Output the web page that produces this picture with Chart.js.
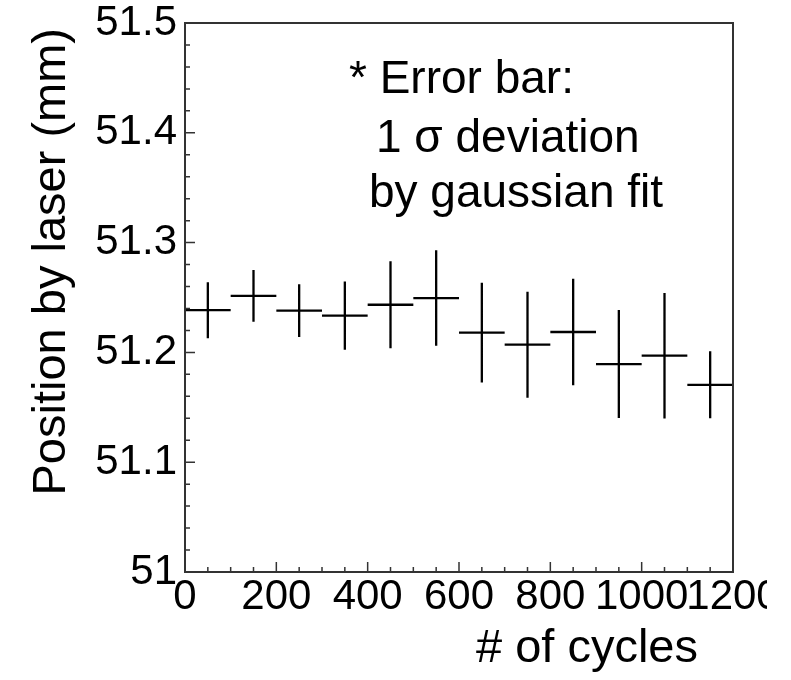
<!DOCTYPE html>
<html>
<head>
<meta charset="utf-8">
<title>Position by laser</title>
<script src="https://cdn.jsdelivr.net/npm/chart.js"></script>
<style>
  html, body { margin: 0; padding: 0; background: #fff; }
  #wrap { width: 767px; height: 680px; }
</style>
</head>
<body>
<div id="wrap"><canvas id="laser_chart" width="767" height="680"></canvas></div>
<script>
// bins of 100 cycles, value = mean position, error = 1 sigma of gaussian fit
const cycleBins = [50, 150, 250, 350, 450, 550, 650, 750, 850, 950, 1050, 1150];
const binHalfWidths = [50, 50, 50, 50, 50, 50, 50, 50, 50, 50, 50, 50];
const positions = [51.2385, 51.2515, 51.238, 51.2335, 51.2434, 51.2495, 51.218, 51.207, 51.2186, 51.1894, 51.197, 51.1705];
const sigmas = [0.0255, 0.0235, 0.024, 0.031, 0.0397, 0.0435, 0.0455, 0.0483, 0.0485, 0.0492, 0.0572, 0.0305];

const xTickLabels = ['0', '200', '400', '600', '800', '1000', '1200'];
const yTickLabels = ['51', '51.1', '51.2', '51.3', '51.4', '51.5'];
const noteLines = ['* Error bar:', '1 \u03c3 deviation', 'by gaussian fit'];

const FONT = '"Liberation Sans", Arial, Helvetica, sans-serif';

// ROOT style frame + inward ticks
const rootFrame = {
    id: 'rootFrame',
    afterDraw(chart) {
        const { ctx, chartArea: a, scales: { x, y } } = chart;
        ctx.save();
        ctx.strokeStyle = '#333';
        ctx.lineWidth = 1.5;
        ctx.beginPath();
        for (let v = 0; v <= 1200; v += 50) {
            const px = x.getPixelForValue(v);
            const len = v % 200 === 0 ? 10 : 5;
            ctx.moveTo(px, a.bottom);
            ctx.lineTo(px, a.bottom - len);
        }
        for (let i = 0; i <= 25; i++) {
            const py = y.getPixelForValue(51 + i * 0.02);
            const len = i % 5 === 0 ? 10 : 5;
            ctx.moveTo(a.left, py);
            ctx.lineTo(a.left + len, py);
        }
        ctx.stroke();
        ctx.lineWidth = 2;
        ctx.strokeRect(a.left, a.top, a.right - a.left, a.bottom - a.top);

        // titles and note
        ctx.fillStyle = '#000';
        ctx.font = '47px ' + FONT;
        ctx.textBaseline = 'alphabetic';
        ctx.textAlign = 'right';
        ctx.fillText('# of cycles', 698, 662);
        ctx.save();
        ctx.translate(65, 28);
        ctx.rotate(-Math.PI / 2);
        ctx.fillText('Position by laser (mm)', 0, 0);
        ctx.restore();

        ctx.textAlign = 'left';
        ctx.font = '46px ' + FONT;
        ctx.fillText(noteLines[0], 349, 93);
        ctx.fillText(noteLines[1], 376, 152);
        ctx.fillText(noteLines[2], 369, 207);
        ctx.restore();
    }
};

// horizontal bin width + vertical sigma, like a TGraphErrors / histogram with errors
const errorCrosses = {
    id: 'errorCrosses',
    afterDatasetsDraw(chart) {
        const { ctx, scales: { x, y } } = chart;
        ctx.save();
        ctx.strokeStyle = '#000';
        ctx.lineWidth = 2.3;
        ctx.beginPath();
        cycleBins.forEach((c, i) => {
            const py = y.getPixelForValue(positions[i]);
            const px = x.getPixelForValue(c);
            ctx.moveTo(x.getPixelForValue(c - binHalfWidths[i]), py);
            ctx.lineTo(x.getPixelForValue(c + binHalfWidths[i]), py);
            ctx.moveTo(px, y.getPixelForValue(positions[i] + sigmas[i]));
            ctx.lineTo(px, y.getPixelForValue(positions[i] - sigmas[i]));
        });
        ctx.stroke();
        ctx.restore();
    }
};

new Chart(document.getElementById('laser_chart'), {
    type: 'scatter',
    data: {
        datasets: [{
            label: 'position',
            data: cycleBins.map((c, i) => ({ x: c, y: positions[i] })),
            pointRadius: 0,
            pointHoverRadius: 0
        }]
    },
    options: {
        responsive: false,
        animation: false,
        layout: { padding: { top: 23, right: 34, bottom: 0, left: 0 } },
        plugins: { legend: { display: false }, tooltip: { enabled: false } },
        scales: {
            x: {
                type: 'linear',
                min: 0,
                max: 1200,
                grid: { display: false, drawTicks: false },
                border: { display: false },
                ticks: {
                    stepSize: 200,
                    autoSkip: false,
                    maxRotation: 0,
                    minRotation: 0,
                    padding: 0,
                    color: '#000',
                    font: { family: FONT, size: 42 },
                    callback: (v, i) => xTickLabels[i]
                },
                afterFit(scale) {
                    scale.height = 108;
                    scale.paddingLeft = 0;
                    scale.paddingRight = 0;
                }
            },
            y: {
                type: 'linear',
                min: 51,
                max: 51.5,
                grid: { display: false, drawTicks: false },
                border: { display: false },
                ticks: {
                    stepSize: 0.1,
                    padding: 8,
                    color: '#000',
                    font: { family: FONT, size: 42 },
                    callback: (v, i) => yTickLabels[i]
                },
                afterFit(scale) {
                    scale.width = 185;
                    scale.paddingTop = 0;
                    scale.paddingBottom = 0;
                }
            }
        }
    },
    plugins: [errorCrosses, rootFrame]
});
</script>
</body>
</html>
